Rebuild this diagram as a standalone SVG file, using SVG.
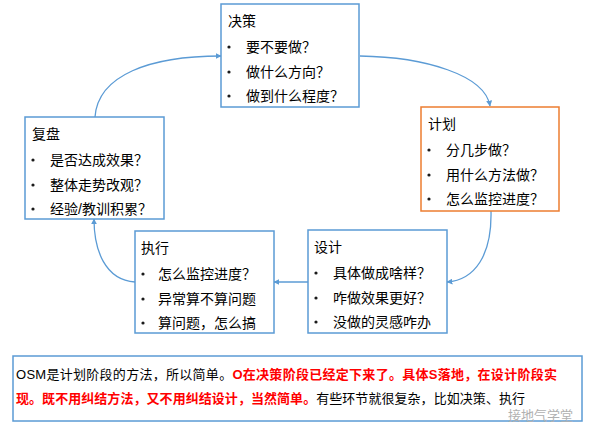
<svg xmlns="http://www.w3.org/2000/svg" width="590" height="436" viewBox="0 0 590 436">
<defs>
<style>
.box{fill:#fff;stroke:#5B9BD5;stroke-width:1.5}
.obox{fill:#fff;stroke:#ED7D31;stroke-width:1.5}
.t{font-family:"Liberation Sans","Noto Sans CJK SC",sans-serif;font-size:14px;fill:#000}
.n{font-size:13px}
.b{fill:#1a1a1a}
.conn{fill:none;stroke:#5B9BD5;stroke-width:1.3;marker-end:url(#ah)}
.red{fill:#FF0000;font-weight:bold}
.wm{font-family:"Noto Sans CJK SC",sans-serif;font-size:13px;fill:#b0b0b0}
</style>
<marker id="ah" viewBox="0 0 10 10" refX="9" refY="5" markerWidth="6" markerHeight="6" orient="auto" markerUnits="userSpaceOnUse">
<path d="M0,0 L10,5 L0,10 z" fill="#5B9BD5"/>
</marker>
</defs>
<rect width="590" height="436" fill="#fff"/>
<g id="connectors">
<path class="conn" d="M360,56 C425,57 485,75 490,106"/>
<path class="conn" d="M491,211 C492,255 475,280 447,282"/>
<path class="conn" d="M308,282 L274,282"/>
<path class="conn" d="M135,282 C105,280 94,250 94,219"/>
<path class="conn" d="M95,117 C98,75 150,56 221,56"/>
</g>
<g id="juece">
<rect class="box" x="221" y="4" width="138" height="103"/>
<text class="t" x="228" y="26">决策</text>
<circle class="b" cx="229" cy="47" r="1.6"/><text class="t" x="246" y="52">要不要做？</text>
<circle class="b" cx="229" cy="72" r="1.6"/><text class="t" x="246" y="77">做什么方向？</text>
<circle class="b" cx="229" cy="96" r="1.6"/><text class="t" x="246" y="101">做到什么程度？</text>
</g>
<g id="jihua">
<rect class="obox" x="421" y="107" width="138" height="104"/>
<text class="t" x="428" y="129">计划</text>
<circle class="b" cx="429" cy="150" r="1.6"/><text class="t" x="446" y="155">分几步做？</text>
<circle class="b" cx="429" cy="175" r="1.6"/><text class="t" x="446" y="180">用什么方法做？</text>
<circle class="b" cx="429" cy="199" r="1.6"/><text class="t" x="446" y="204">怎么监控进度？</text>
</g>
<g id="fupan">
<rect class="box" x="25" y="117" width="139" height="102"/>
<text class="t" x="32" y="139">复盘</text>
<circle class="b" cx="33" cy="160" r="1.6"/><text class="t" x="50" y="165">是否达成效果？</text>
<circle class="b" cx="33" cy="185" r="1.6"/><text class="t" x="50" y="190">整体走势改观？</text>
<circle class="b" cx="33" cy="209" r="1.6"/><text class="t" x="50" y="214">经验/教训积累？</text>
</g>
<g id="zhixing">
<rect class="box" x="135" y="231" width="139" height="102"/>
<text class="t" x="141" y="253">执行</text>
<circle class="b" cx="143" cy="274" r="1.6"/><text class="t" x="158" y="279">怎么监控进度？</text>
<circle class="b" cx="143" cy="299" r="1.6"/><text class="t" x="158" y="304">异常算不算问题</text>
<circle class="b" cx="143" cy="323" r="1.6"/><text class="t" x="158" y="328">算问题，怎么搞</text>
</g>
<g id="sheji">
<rect class="box" x="308" y="230" width="139" height="103"/>
<text class="t" x="314" y="252">设计</text>
<circle class="b" cx="316" cy="273" r="1.6"/><text class="t" x="333" y="278">具体做成啥样？</text>
<circle class="b" cx="316" cy="298" r="1.6"/><text class="t" x="333" y="303">咋做效果更好？</text>
<circle class="b" cx="316" cy="322" r="1.6"/><text class="t" x="333" y="327">没做的灵感咋办</text>
</g>
<g id="note">
<rect class="box" x="13" y="356" width="569" height="65"/>
<text class="t n" x="16" y="379" textLength="541" lengthAdjust="spacing">OSM是计划阶段的方法，所以简单。<tspan class="red">O在决策阶段已经定下来了。具体S落地，在设计阶段实</tspan></text>
<text class="t n" x="16" y="403" textLength="509" lengthAdjust="spacing"><tspan class="red">现。既不用纠结方法，又不用纠结设计，当然简单。</tspan>有些环节就很复杂，比如决策、执行</text>
<text class="wm" x="508" y="420">接地气学堂</text>
</g>
</svg>
